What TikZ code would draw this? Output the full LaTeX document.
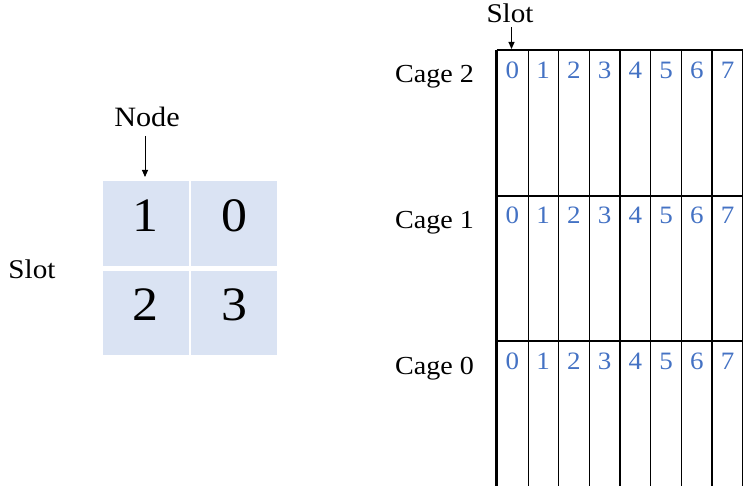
\documentclass[tikz,border=0pt]{standalone}
\usepackage{fontspec}
\setmainfont[FakeStretch=1.08]{Liberation Serif}
\usetikzlibrary{arrows.meta}
\definecolor{cellfill}{HTML}{DAE3F3}
\definecolor{slotblue}{HTML}{4472C4}
\begin{document}
\begin{tikzpicture}[x=1pt,y=-1pt,
  lbl/.style={inner sep=0pt,anchor=base,font=\fontsize{26}{26}\selectfont},
  bignum/.style={inner sep=0pt,font=\fontsize{48}{48}\selectfont},
  slotnum/.style={inner sep=0pt,text=slotblue,font=\fontsize{25}{25}\selectfont},
  cell/.style={fill=cellfill,draw=none},
  gridline/.style={line width=1.3pt,black},
  pointer/.style={line width=0.9pt,-{Triangle[length=7pt,width=6pt]}}]
\fill[white] (0,0) rectangle (746,486);
\useasboundingbox (0,0) rectangle (746,486);

% node board: four slots
\fill[cell] (103,181) rectangle (189,266);
\fill[cell] (191,181) rectangle (277,266);
\fill[cell] (103,271) rectangle (189,355);
\fill[cell] (191,271) rectangle (277,355);
\node[bignum] (n1) at (145,216) {1};
\node[bignum] (n0) at (234,216) {0};
\node[bignum] (n2) at (145,305) {2};
\node[bignum] (n3) at (234,305) {3};

\node[lbl,font=\fontsize{28}{28}\selectfont] (nodelbl) at (147,127) {Node};
\coordinate (nodetail) at (145,136);
\coordinate (nodetip) at (145,177);
\draw[pointer] (nodetail) -- (nodetip);
\node[lbl,font=\fontsize{27}{27}\selectfont] (slotleft) at (32,278) {Slot};

% cage frame with eight slots per cage
\foreach \xx in {528.3,558.7,589.3,620,650.7,681.3,712,742.7}
  \draw[gridline] (\xx,50) -- (\xx,490);
\draw[line width=2.6pt] (496.7,50) -- (496.7,490);
\foreach \yy in {50,196,341}
  \draw[gridline] (496.7,\yy) -- (742.7,\yy);

\foreach \row/\yy in {2/70,1/215,0/361}{
  \foreach \k in {0,...,7}
    \node[slotnum] (s\row\k) at (512.4+30.75*\k,\yy) {\k};
}

\node[lbl] (cage2) at (434.5,83) {Cage 2};
\node[lbl] (cage1) at (434.5,229) {Cage 1};
\node[lbl] (cage0) at (434.5,374) {Cage 0};

\node[lbl,font=\fontsize{27}{27}\selectfont] (slottop) at (510,23) {Slot};
\coordinate (slottail) at (511.5,27);
\coordinate (slottip) at (511.5,49);
\draw[pointer] (slottail) -- (slottip);
\end{tikzpicture}
\end{document}
